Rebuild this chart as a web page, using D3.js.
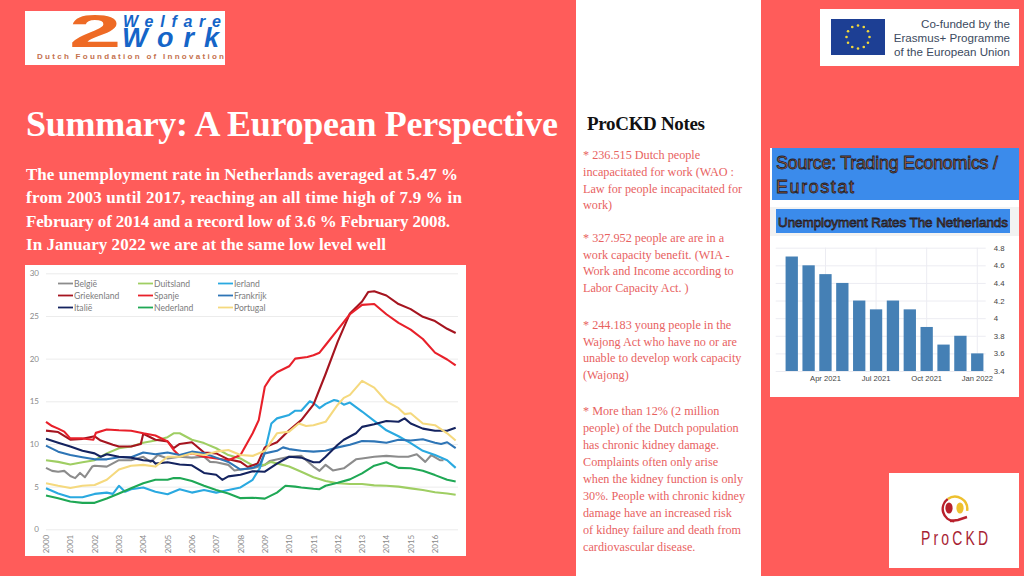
<!DOCTYPE html>
<html>
<head>
<meta charset="utf-8">
<title>Summary: A European Perspective</title>
<script src="https://d3js.org/d3.v7.min.js"></script>
<style>
    html, body { margin: 0; padding: 0; background: #ff5c5a; overflow: hidden; }
    svg { display: block; }
    text { font-family: "Liberation Serif", serif; }
    .sans text, text.sans { font-family: "Liberation Sans", Arial, sans-serif; }
    .lato text, text.lato { font-family: Lato, sans-serif; }
    .domain { display: none; }
</style>
</head>
<body>
<svg id="slide" width="1024" height="576"></svg>

<script>
    var svg = d3.select("#slide");

    svg.append("rect").attr("width", 1024).attr("height", 576).attr("fill", "#ff5c5a");
    svg.append("rect").attr("x", 576).attr("width", 185).attr("height", 576).attr("fill", "#fff");

    // helper for a line of text squeezed to the width
    function put(x, y, str, size, color, weight, width) {
        var t = svg.append("text").attr("x", x).attr("y", y).text(str)
            .attr("font-size", size).attr("fill", color).attr("font-weight", weight || "normal");
        if (width) t.attr("textLength", width);
        return t;
    }

    /* ---------- headline and intro ---------- */
    put(26, 136, "Summary: A European Perspective", 36, "#fff", "bold", 532);
    put(26, 180, "The unemployment rate in Netherlands averaged at 5.47 %", 17, "#fff", "bold", 432);
    put(26, 203, "from 2003 until 2017, reaching an all time high of 7.9 % in", 17, "#fff", "bold", 436);
    put(26, 227, "February of 2014 and a record low of 3.6 % February 2008.", 17, "#fff", "bold", 424);
    put(26, 250, "In January 2022 we are at the same low level well", 17, "#fff", "bold", 360);

    /* ---------- notes column ---------- */
    put(587, 130, "ProCKD Notes", 19, "#111", "bold", 118);
    var notes = [
        [155, "* 236.515 Dutch people"],
        [172, "incapacitated for work (WAO :"],
        [189, "Law for people incapacitated for"],
        [205, "work)"],
        [238, "* 327.952 people are are in a"],
        [255, "work capacity benefit. (WIA -"],
        [271, "Work and Income according to"],
        [288, "Labor Capacity Act. )"],
        [325, "* 244.183 young people in the"],
        [342, "Wajong Act who have no or are"],
        [358, "unable to develop work capacity"],
        [375, "(Wajong)"],
        [411, "* More than 12% (2 million"],
        [428, "people) of the Dutch population"],
        [445, "has chronic kidney damage."],
        [462, "Complaints often only arise"],
        [479, "when the kidney function is only"],
        [496, "30%. People with chronic kidney"],
        [513, "damage have an increased risk"],
        [530, "of kidney failure and death from"],
        [547, "cardiovascular disease."]
    ];
    notes.forEach(function (n) { put(583, n[0] + 4, n[1], 12.2, "#e8625f"); });

    /* ---------- unemployment per country ---------- */
    var colors = {
        "België": "#8c8c8c", "Duitsland": "#9fce63", "Ierland": "#2aa9e0",
        "Griekenland": "#a5141f", "Spanje": "#e8202a", "Frankrijk": "#2e75b6",
        "Italië": "#14235f", "Nederland": "#1fa855", "Portugal": "#f5d97e"
    };

    var rates = {
        "België": [[2000,7.2],[2000.25,6.85],[2000.5,6.75],[2000.75,6.85],[2001,6.25],[2001.2,6],[2001.4,6.6],[2001.6,6.1],[2001.9,7.35],[2002,7.45],[2002.5,7.35],[2003,8.1],[2003.5,8.1],[2004,8.5],[2004.3,7.9],[2004.6,8.7],[2005,8.3],[2005.5,8.5],[2006,8.4],[2006.5,8.5],[2006.75,7.9],[2007,7.85],[2007.5,7.55],[2007.75,6.9],[2008,7],[2008.5,7.15],[2009,7.55],[2009.2,8],[2010,8.5],[2010.5,8.6],[2011,7.35],[2011.25,6.85],[2011.5,7.55],[2011.8,6.9],[2012.25,7.15],[2012.75,8.2],[2013,8.3],[2013.5,8.5],[2014,8.6],[2014.5,8.5],[2014.9,8.5],[2015.25,8.8],[2015.6,7.9],[2015.85,8.7],[2016.2,8.1],[2016.35,8.1]],
        "Duitsland": [[2000,8.1],[2000.5,7.9],[2001,7.6],[2001.5,7.85],[2002,8.1],[2002.5,8.9],[2003,9.5],[2003.5,9.7],[2004,10.15],[2004.5,10.4],[2005,10.8],[2005.25,11.25],[2005.5,11.25],[2006,10.5],[2006.5,10.1],[2007,9.5],[2007.5,8.7],[2008,8.3],[2008.5,7.5],[2009,7.55],[2009.25,7.9],[2010,7.35],[2010.5,6.75],[2011,6.1],[2011.5,5.65],[2012,5.4],[2012.5,5.3],[2013,5.3],[2013.5,5.15],[2014,5.1],[2014.5,5],[2015,4.8],[2015.5,4.6],[2016,4.35],[2016.5,4.2],[2016.85,4.05]],
        "Ierland": [[2000,4.8],[2000.5,4.2],[2001,3.75],[2001.5,3.75],[2002,4.15],[2002.5,4.3],[2002.75,4.15],[2003,5.1],[2003.25,4.4],[2003.5,4.7],[2004,4.9],[2004.5,4.4],[2005,4.1],[2005.5,4.7],[2006,4.3],[2006.5,4.6],[2007,4.3],[2007.5,4.6],[2008,4.9],[2008.5,5.8],[2008.8,7.2],[2009,9.1],[2009.27,12.4],[2009.5,13],[2010,13.4],[2010.25,13.9],[2010.5,13.9],[2010.85,15],[2011,14.8],[2011.25,14.2],[2011.5,14.7],[2011.85,15.15],[2012,15.05],[2012.25,14.6],[2012.5,14.85],[2013,13.8],[2013.5,12.7],[2014,11.6],[2014.5,10.9],[2015,10.1],[2015.5,9.2],[2016,8.7],[2016.5,8.1],[2016.85,7.2]],
        "Griekenland": [[2000,11.56],[2000.5,11.4],[2001,10.5],[2001.5,10.6],[2002,10.9],[2002.25,10.4],[2002.75,9.9],[2003,9.7],[2003.5,9.7],[2003.9,10],[2004,11.2],[2004.5,10.5],[2005,10.3],[2005.25,9.5],[2005.5,10],[2006,10.2],[2006.5,9],[2007,8.9],[2007.5,8.2],[2008,7.9],[2008.3,7.3],[2008.7,7.7],[2009,9.6],[2009.5,10.2],[2010,11.6],[2010.5,12.8],[2011,14.6],[2011.5,18.2],[2012,22],[2012.5,25.3],[2013,26.7],[2013.25,27.8],[2013.5,27.9],[2014,27.4],[2014.5,26.4],[2015,25.8],[2015.5,24.9],[2016,24.4],[2016.5,23.5],[2016.85,23]],
        "Spanje": [[2000,12.6],[2000.25,12.1],[2000.5,11.8],[2000.75,11.45],[2001,10.65],[2001.5,10.65],[2001.95,10.5],[2002.05,11.3],[2002.5,11.7],[2003,11.6],[2003.5,11.55],[2004,11.25],[2004.5,11],[2005,10.3],[2005.25,9.3],[2005.5,8.6],[2006,8.9],[2006.5,8.5],[2007,8.3],[2007.5,8.1],[2008,8.7],[2008.5,11.25],[2008.75,12.8],[2009,16.7],[2009.25,17.8],[2009.5,18.4],[2010,19.1],[2010.25,20],[2010.75,20.2],[2011,20.4],[2011.25,20.7],[2011.5,21.6],[2012,23.4],[2012.5,25.2],[2013,26.3],[2013.5,26.4],[2014,25.2],[2014.5,24.2],[2015,23.4],[2015.5,22.3],[2016,20.7],[2016.5,19.9],[2016.85,19.2]],
        "Frankrijk": [[2000,9.8],[2000.5,9.1],[2001,8.7],[2001.5,8.45],[2002,8.2],[2002.5,8.2],[2003,8.45],[2003.5,8.45],[2004,9],[2004.5,8.8],[2005,9],[2005.5,8.7],[2006,9.1],[2006.5,8.9],[2007,8.4],[2007.5,7.9],[2008,7],[2008.5,7.2],[2008.8,7.6],[2009,8.9],[2009.5,9.2],[2009.75,9.6],[2010,9.4],[2010.5,9.2],[2011,9.1],[2011.5,9.2],[2012,9.6],[2012.5,9.9],[2013,10.35],[2013.5,10.3],[2014,10.15],[2014.5,10.5],[2015,10.4],[2015.5,10.55],[2016,10.15],[2016.25,10],[2016.5,10.2],[2016.85,9.5]],
        "Italië": [[2000,10.6],[2000.5,10.15],[2001,9.7],[2001.5,9.2],[2002,8.9],[2002.25,8.5],[2002.5,8.8],[2003,8.5],[2003.5,8.4],[2004,8.1],[2004.4,8],[2004.5,7.7],[2005,7.85],[2005.5,7.6],[2006,7.5],[2006.5,6.6],[2007,6.4],[2007.25,5.8],[2007.5,6.2],[2008,6.4],[2008.5,6.8],[2009,6.75],[2009.5,7.7],[2010,8.5],[2010.5,8.4],[2011,7.85],[2011.25,7.85],[2011.5,8.5],[2012,9.9],[2012.25,10.5],[2012.75,11.25],[2013,12],[2013.5,12.3],[2014,12.7],[2014.5,12.6],[2014.75,13],[2015,12.4],[2015.5,11.8],[2016,11.55],[2016.5,11.55],[2016.85,11.9]],
        "Nederland": [[2000,3.95],[2000.5,3.65],[2001,3.25],[2001.5,3.1],[2002,3.1],[2002.5,3.6],[2003,4.2],[2003.5,4.8],[2004,5.4],[2004.5,5.8],[2005,5.8],[2005.25,6],[2005.5,6],[2006,5.65],[2006.5,5.1],[2007,4.6],[2007.5,4.2],[2008,3.65],[2008.5,3.7],[2009,3.6],[2009.5,4.3],[2009.85,5.1],[2010.25,5],[2010.5,4.9],[2011,4.75],[2011.25,4.7],[2011.5,5.1],[2012,5.45],[2012.5,5.85],[2013,6.55],[2013.5,7.45],[2014,7.85],[2014.5,7.2],[2015,7.15],[2015.5,6.85],[2016,6.35],[2016.5,5.8],[2016.85,5.6]],
        "Portugal": [[2000,5.4],[2000.5,5.1],[2001,4.85],[2001.5,5.1],[2002,5.2],[2002.5,5.8],[2003,7],[2003.5,7.45],[2004,7.55],[2004.5,7.35],[2005,8.5],[2005.5,8.5],[2006,8.9],[2006.5,8.7],[2007,9.1],[2007.5,9.3],[2008,8.7],[2008.5,8.6],[2009,9.2],[2009.5,11.25],[2010,11.45],[2010.4,12.4],[2010.7,12.1],[2011,12.2],[2011.5,12.6],[2012,14.6],[2012.25,15.4],[2012.5,15.75],[2013,17.4],[2013.5,16.6],[2014,15],[2014.5,14.2],[2014.75,13.5],[2015,13.6],[2015.5,12.4],[2016,12.2],[2016.5,11.25],[2016.85,10.4]]
    };

    svg.append("rect").attr("x", 25).attr("y", 265).attr("width", 441).attr("height", 291).attr("fill", "#fff");

    var x = d3.scaleLinear().domain([2000, 2016]).range([46, 435]);
    var y = d3.scaleLinear().domain([0, 30]).range([529.3, 273.3]);

    var yAxis = d3.axisLeft(y).tickValues([0, 5, 10, 15, 20, 25, 30]).tickSize(-412).tickPadding(7);
    var gy = svg.append("g").attr("class", "lato").attr("transform", "translate(46,0)").call(yAxis);
    gy.selectAll("line").attr("stroke", "#ececec");
    gy.selectAll("text").attr("fill", "#8a8a8a").attr("font-size", 8);

    var xAxis = d3.axisBottom(x).tickValues(d3.range(2000, 2017)).tickFormat(d3.format("d")).tickSize(0);
    var gx = svg.append("g").attr("class", "lato").attr("transform", "translate(0,529.3)").call(xAxis);
    gx.selectAll("text").attr("fill", "#8a8a8a").attr("font-size", 8)
        .attr("transform", "rotate(-90)")
        .attr("text-anchor", "end")
        .attr("x", -5.5).attr("y", 0).attr("dy", "0.32em");

    var line = d3.line().x(function (d) { return x(d[0]); }).y(function (d) { return y(d[1]); });

    Object.keys(rates).forEach(function (name) {
        svg.append("path").datum(rates[name]).attr("d", line)
            .attr("fill", "none").attr("stroke", colors[name])
            .attr("stroke-width", 2.1).attr("stroke-linejoin", "round");
    });

    // legend: 3 rows by 3 columns
    var legendX = d3.scalePoint().domain([0, 1, 2]).range([58, 218]);
    var legendY = d3.scalePoint().domain([0, 1, 2]).range([283.5, 307.5]);
    Object.keys(colors).forEach(function (name, i) {
        var col = i % 3, row = Math.floor(i / 3);
        svg.append("line").attr("x1", legendX(col)).attr("x2", legendX(col) + 15)
            .attr("y1", legendY(row)).attr("y2", legendY(row))
            .attr("stroke", colors[name]).attr("stroke-width", 1.8);
        svg.append("text").attr("class", "lato").attr("x", legendX(col) + 16).attr("y", legendY(row) + 3)
            .attr("font-size", 8.6).attr("fill", "#7c7c7c").text(name);
    });

    /* ---------- Trading Economics panel ---------- */
    svg.append("rect").attr("x", 770).attr("y", 148).attr("width", 249).attr("height", 249).attr("fill", "#fff");
    svg.append("rect").attr("x", 772).attr("y", 148).attr("width", 247).attr("height", 52).attr("fill", "#3b8beb");
    svg.append("rect").attr("x", 770).attr("y", 207).attr("width", 249).attr("height", 29).attr("fill", "#f2f2f2");
    svg.append("rect").attr("x", 776).attr("y", 209).attr("width", 234).attr("height", 24).attr("fill", "#3b8beb");

    function fancy(x0, y0, str, size, width) {
        put(x0, y0, str, size, "#b0683a", "normal", width)
            .attr("class", "sans").attr("stroke", "#20202c").attr("stroke-width", 0.8);
    }
    fancy(776, 169, "Source: Trading Economics /", 18, 222);
    fancy(776, 193, "Eurostat", 18, 78);
    fancy(778, 227, "Unemployment Rates The Netherlands", 13.5, 230);

    var months = [
        { m: "Feb 2021", v: 4.7 }, { m: "Mar 2021", v: 4.6 }, { m: "Apr 2021", v: 4.5 },
        { m: "May 2021", v: 4.4 }, { m: "Jun 2021", v: 4.2 }, { m: "Jul 2021", v: 4.1 },
        { m: "Aug 2021", v: 4.2 }, { m: "Sep 2021", v: 4.1 }, { m: "Oct 2021", v: 3.9 },
        { m: "Nov 2021", v: 3.7 }, { m: "Dec 2021", v: 3.8 }, { m: "Jan 2022", v: 3.6 }
    ];
    var bx = d3.scaleBand().domain(months.map(function (d) { return d.m; }))
        .range([783.3, 985.7]).paddingInner(0.27).paddingOuter(0.135);
    var by = d3.scaleLinear().domain([3.4, 4.8]).range([371, 247.7]);

    var byAxis = d3.axisRight(by).tickValues(d3.range(3.4, 4.81, 0.2)).tickFormat(function (d) { return +d.toFixed(1); })
        .tickSize(-210).tickPadding(8);
    var gby = svg.append("g").attr("class", "sans").attr("transform", "translate(985.7,0)").call(byAxis);
    gby.selectAll("line").attr("stroke", "#ececf2");
    gby.selectAll("text").attr("fill", "#444").attr("font-size", 7.8);

    var quarterTicks = ["Apr 2021", "Jul 2021", "Oct 2021", "Jan 2022"];
    var bxAxis = d3.axisBottom(bx).tickValues(quarterTicks).tickSize(0).tickPadding(5);
    var gbx = svg.append("g").attr("class", "sans").attr("transform", "translate(0,371)").call(bxAxis);
    gbx.selectAll("text").attr("fill", "#444").attr("font-size", 7.6);

    quarterTicks.forEach(function (m) {
        svg.append("line").attr("x1", bx(m) + bx.bandwidth() / 2).attr("x2", bx(m) + bx.bandwidth() / 2)
            .attr("y1", 247.7).attr("y2", 371).attr("stroke", "#ececf2");
    });

    svg.selectAll("rect.bar").data(months).enter().append("rect").attr("class", "bar")
        .attr("x", function (d) { return bx(d.m); })
        .attr("y", function (d) { return by(d.v); })
        .attr("width", bx.bandwidth())
        .attr("height", function (d) { return by(3.4) - by(d.v); })
        .attr("fill", "#4580b5");

    /* ---------- logos ---------- */
    // 2 Welfare Work
    svg.append("rect").attr("x", 25).attr("y", 11).attr("width", 200).attr("height", 54).attr("fill", "#fff");
    put(0, 0, "2", 47, "#ee6a25", "bold").attr("class", "sans")
        .attr("transform", "translate(69,47) scale(2,1)");
    put(123, 26.5, "Welfare", 16, "#1565c8", "bold", 98).attr("class", "sans").attr("font-style", "italic");
    put(122, 47, "Work", 27, "#1565c8", "bold", 97).attr("class", "sans").attr("font-style", "italic");
    put(37, 59, "Dutch Foundation of Innovation", 8, "#c4714e", "bold", 187).attr("class", "sans");

    // EU flag and caption
    svg.append("rect").attr("x", 820).attr("y", 9).attr("width", 199).attr("height", 57).attr("fill", "#fff");
    svg.append("rect").attr("x", 831).attr("y", 19).attr("width", 54).attr("height", 36).attr("fill", "#1d3f94");
    d3.range(12).forEach(function (i) {
        var a = i * Math.PI / 6;
        svg.append("circle").attr("cx", 858 + 11.5 * Math.sin(a)).attr("cy", 37 - 11.5 * Math.cos(a))
            .attr("r", 1.3).attr("fill", "#f2d83b");
    });
    ["Co-funded by the", "Erasmus+ Programme", "of the European Union"].forEach(function (s, i) {
        put(1010, 28 + i * 14, s, 11.6, "#3c4a60").attr("class", "sans").attr("text-anchor", "end");
    });

    // ProCKD
    svg.append("rect").attr("x", 889).attr("y", 473).attr("width", 130).attr("height", 95).attr("fill", "#fff");
    var ring = d3.arc().innerRadius(11).outerRadius(13.5);
    svg.append("path").attr("transform", "translate(955,509)").attr("fill", "#b8202c")
        .attr("d", ring({ startAngle: Math.PI * 1.02, endAngle: Math.PI * 1.8 }));
    svg.append("path").attr("transform", "translate(955,509)").attr("fill", "#eec02f")
        .attr("d", ring({ startAngle: -Math.PI * 0.2, endAngle: Math.PI * 0.55 }));
    svg.append("ellipse").attr("cx", 949).attr("cy", 508).attr("rx", 3.6).attr("ry", 5.5).attr("fill", "#b8202c");
    svg.append("ellipse").attr("cx", 960).attr("cy", 508).attr("rx", 3.6).attr("ry", 5.5).attr("fill", "#eec02f");
    svg.append("path").attr("d", d3.line()([[950, 521], [958, 520], [967, 517]]))
        .attr("fill", "none").attr("stroke", "#b8202c").attr("stroke-width", 2.4);
    // thin tall letters, spread out
    put(0, 0, "ProCKD", 20, "#a81e33", "normal", 96).attr("class", "sans")
        .attr("transform", "translate(921,545) scale(0.7,1)");
</script>
</body>
</html>
